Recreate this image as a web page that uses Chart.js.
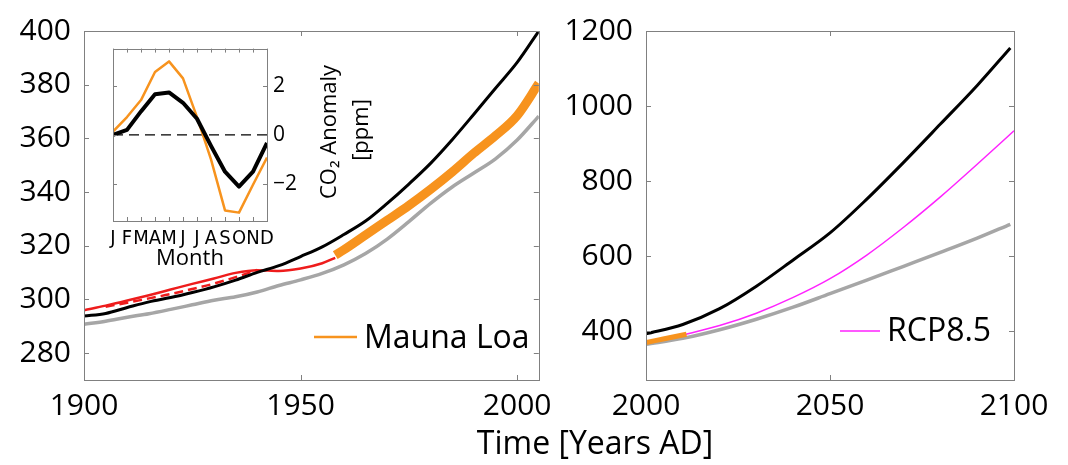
<!DOCTYPE html>
<html>
<head>
<meta charset="utf-8">
<title>CO2 concentration</title>
<script src="https://cdn.jsdelivr.net/npm/chart.js@4.4.1/dist/chart.umd.min.js"></script>
<style>
html,body{margin:0;padding:0;background:#fff;}
#wrap{position:relative;width:1068px;height:465px;overflow:hidden;background:#fff;}
canvas{position:absolute;}
#xtitle{position:absolute;left:395px;width:400px;top:426px;text-align:center;font:32px/32px "Open Sans",sans-serif;color:#000;white-space:nowrap;}
</style>
</head>
<body>
<div id="wrap">
<canvas id="cL" width="560" height="465" style="left:0;top:0;width:560px;height:465px"></canvas>
<canvas id="cR" width="508" height="465" style="left:560px;top:0;width:508px;height:465px"></canvas>
<canvas id="cI" width="300" height="250" style="left:90px;top:30px;width:300px;height:250px"></canvas>
<div id="xtitle">Time [Years AD]</div>
</div>
<script>
// ---------- data: historical panel ----------
const histYears   = [1900,1905,1910,1915,1920,1925,1930,1935,1940,1945,1950,1955,1960,1965,1970,1975,1980,1985,1990,1995,2000,2005];
const blackHist   = [293.8,294.8,297.0,299.1,300.7,302.6,304.7,307.2,310.1,312.6,316.0,319.6,324.2,329.2,335.8,343.0,350.7,359.5,369.0,378.7,388.3,400.0];
const greyHist    = [290.8,291.9,293.4,294.7,296.3,298.0,299.7,301.0,302.8,305.2,307.3,309.7,312.9,317.1,322.5,329.0,335.8,341.9,347.1,352.4,359.4,368.3];
const redYears    = [1900,1905,1910,1915,1920,1925,1930,1935,1940,1945,1950,1955,1958];
const redSolid    = [296.0,297.7,299.6,301.6,303.7,305.8,307.8,309.9,310.9,310.6,311.5,313.5,315.5];
const redDashYears= [1905,1910,1915,1920,1925,1930,1935,1940];
const redDash     = [297.3,298.8,300.4,302.0,303.9,305.9,308.3,311.0];
const mloYears    = [1958,1960,1965,1970,1975,1980,1985,1990,1995,2000,2005];
const mloHist     = [316.5,318.5,324.0,329.5,335.0,341.0,347.5,354.5,361.0,368.5,380.5];
const histXTicks  = [1900,1950,2000];
const histYTicks  = [280,300,320,340,360,380,400];

// ---------- data: projection panel ----------
const projYears   = [2000,2010,2020,2030,2040,2050,2060,2070,2080,2090,2099];
const blackProj   = [393,418,460,520,590,662,752,850,952,1055,1155];
const greyProj    = [365,381,404,432,464,500,536,573,610,648,685];
const rcpYears    = [2010,2020,2030,2040,2050,2060,2070,2080,2090,2100];
const rcp85       = [390,415,448,490,540,603,677,758,845,934];
const mloProjYears= [2000,2005,2011];
const mloProj     = [370,380,392];
const projXTicks  = [2000,2050,2100];
const projYTicks  = [400,600,800,1000,1200];

// ---------- data: inset (seasonal cycle) ----------
const monthLabels = ['J','F','M','A','M','J','J','A','S','O','N','D'];
const monthIdx    = [1,2,3,4,5,6,7,8,9,10,11,12];
const anomModel   = [0.0,0.2,0.95,1.65,1.72,1.3,0.65,-0.45,-1.5,-2.1,-1.5,-0.33];
const anomMLO     = [0.13,0.72,1.41,2.55,2.98,2.29,0.72,-1.0,-3.07,-3.16,-2.03,-0.92];
const zeroX       = [1,12];
const zeroY       = [0,0];
const insetYTicks = [-2,0,2];

// ---------- helpers ----------
const FONT = '"Open Sans", "Noto Sans", sans-serif';
const pts = (xs, ys) => xs.map((x,i)=>({x:x, y:ys[i]}));
const ORANGE = '#f7931e', GREY = '#a6a6a6', RED = '#ee1c1c', MAGENTA = '#ff22ff';

const framePlugin = {
  id:'frame',
  afterDatasetsDraw(chart, args, opts){
    const {ctx, chartArea:a, scales} = chart;
    const L = opts.tick || 5;
    ctx.save();
    ctx.strokeStyle = opts.color || '#808080';
    ctx.lineWidth = 1;
    ctx.beginPath();
    scales.x.ticks.forEach(t=>{
      const p = Math.round(scales.x.getPixelForValue(t.value))+0.5;
      ctx.moveTo(p,a.bottom); ctx.lineTo(p,a.bottom-L);
      ctx.moveTo(p,a.top); ctx.lineTo(p,a.top+L);
    });
    scales.y.ticks.forEach(t=>{
      const p = Math.round(scales.y.getPixelForValue(t.value))+0.5;
      ctx.moveTo(a.left,p); ctx.lineTo(a.left+L,p);
      ctx.moveTo(a.right,p); ctx.lineTo(a.right-L,p);
    });
    ctx.stroke();
    ctx.strokeRect(Math.round(a.left)+0.5, Math.round(a.top)+0.5, Math.round(a.right-a.left), Math.round(a.bottom-a.top));
    ctx.restore();
  }
};

const legendPlugin = {
  id:'inlineLegend',
  afterDraw(chart, args, opts){
    if(!opts || !opts.items) return;
    const ctx = chart.ctx;
    opts.items.forEach(it=>{
      const ds = chart.data.datasets[it.dataset];
      ctx.save();
      ctx.strokeStyle = it.color || ds.borderColor;
      ctx.lineWidth = it.lineWidth;
      ctx.beginPath(); ctx.moveTo(it.x0,it.y); ctx.lineTo(it.x1,it.y); ctx.stroke();
      ctx.fillStyle = '#000';
      ctx.font = '32px ' + FONT;
      ctx.textBaseline = 'alphabetic';
      ctx.textAlign = 'left';
      ctx.fillText(ds.label, it.tx, it.ty);
      ctx.restore();
    });
  }
};

const yTitlePlugin = {
  id:'rotTitle',
  afterDraw(chart, args, opts){
    if(!opts || !opts.lines) return;
    const ctx = chart.ctx;
    opts.lines.forEach(l=>{
      ctx.save();
      ctx.translate(l.x, l.y);
      ctx.rotate(-Math.PI/2);
      ctx.fillStyle = '#000';
      ctx.font = l.size + 'px ' + FONT;
      ctx.textAlign = 'center';
      ctx.textBaseline = 'middle';
      ctx.fillText(l.text, 0, 0);
      ctx.restore();
    });
  }
};

function line(label, data, color, width, extra){
  return Object.assign({label:label, data:data, borderColor:color, backgroundColor:color,
    borderWidth:width, pointRadius:0, fill:false, cubicInterpolationMode:'monotone',
    borderCapStyle:'butt', borderJoinStyle:'round'}, extra||{});
}

function mainOptions(c){
  return {
    responsive:false, animation:false, devicePixelRatio:1,
    layout:{padding:{left:0, top:27, right:c.padRight, bottom:0}},
    plugins:{legend:{display:false}, tooltip:{enabled:false}, inlineLegend:{items:c.legend}, frame:{tick:5}},
    scales:{
      x:{type:'linear', min:c.xmin, max:c.xmax,
        grid:{display:false, drawTicks:false}, border:{display:false},
        afterFit:s=>{s.height=85;},
        afterBuildTicks:s=>{s.ticks=c.xticks.map(v=>({value:v}));},
        ticks:{font:{family:FONT,size:30}, color:'#000', padding:8, maxRotation:0, autoSkip:false, callback:v=>String(v)}},
      y:{type:'linear', min:c.ymin, max:c.ymax,
        grid:{display:false, drawTicks:false}, border:{display:false},
        afterFit:s=>{s.width=c.yw;},
        afterBuildTicks:s=>{s.ticks=c.yticks.map(v=>({value:v}));},
        ticks:{font:{family:FONT,size:30}, color:'#000', padding:13, autoSkip:false, callback:v=>String(v)}}
    }
  };
}

// ---------- left: historical ----------
new Chart(document.getElementById('cL'), {
  type:'line',
  data:{datasets:[
    line('Mauna Loa', pts(mloYears, mloHist), ORANGE, 9),
    line('Model', pts(histYears, blackHist), '#000', 3),
    line('Ice core', pts(redYears, redSolid), RED, 2.5),
    line('Ice core (dashed)', pts(redDashYears, redDash), RED, 2.5, {borderDash:[9,5]}),
    line('Model (low)', pts(histYears, greyHist), GREY, 3.5)
  ]},
  options:mainOptions({xmin:1900, xmax:2005, ymin:270, ymax:400, xticks:histXTicks, yticks:histYTicks,
    yw:84, padRight:11,
    legend:[{dataset:0, x0:314, x1:357, y:337, lineWidth:2.5, tx:364, ty:348}]}),
  plugins:[framePlugin, legendPlugin]
});

// ---------- right: projection ----------
new Chart(document.getElementById('cR'), {
  type:'line',
  data:{datasets:[
    line('Mauna Loa', pts(mloProjYears, mloProj), ORANGE, 5),
    line('RCP8.5', pts(rcpYears, rcp85), MAGENTA, 1.5),
    line('Model', pts(projYears, blackProj), '#000', 3),
    line('Model (low)', pts(projYears, greyProj), GREY, 3.5)
  ]},
  options:mainOptions({xmin:2000, xmax:2100, ymin:270, ymax:1200, xticks:projXTicks, yticks:projYTicks,
    yw:86, padRight:54,
    legend:[{dataset:1, x0:280, x1:320, y:331, lineWidth:1.5, tx:327, ty:341}]}),
  plugins:[framePlugin, legendPlugin]
});

// ---------- inset: seasonal cycle ----------
new Chart(document.getElementById('cI'), {
  type:'line',
  data:{datasets:[
    line('Model', pts(monthIdx, anomModel), '#000', 4, {cubicInterpolationMode:'default', tension:0}),
    line('Mauna Loa', pts(monthIdx, anomMLO), ORANGE, 2.5, {cubicInterpolationMode:'default', tension:0}),
    line('zero', pts(zeroX, zeroY), '#000', 1.3, {borderDash:[10,6], cubicInterpolationMode:'default', tension:0})
  ]},
  options:{
    responsive:false, animation:false, devicePixelRatio:1,
    layout:{padding:{left:23, top:14, right:0, bottom:0}},
    plugins:{legend:{display:false}, tooltip:{enabled:false}, frame:{tick:4},
      rotTitle:{lines:[{text:'CO\u2082 Anomaly', x:240, y:102, size:22},{text:'[ppm]', x:272, y:100, size:22}]}},
    scales:{
      x:{type:'linear', min:1, max:12,
        grid:{display:false, drawTicks:false}, border:{display:false},
        afterFit:s=>{s.height=59;},
        afterBuildTicks:s=>{s.ticks=monthIdx.map(v=>({value:v}));},
        ticks:{font:{family:'"Liberation Sans Narrow", "DejaVu Sans Condensed", sans-serif', size:20}, color:'#000', padding:6, maxRotation:0, autoSkip:false,
          callback:v=>monthLabels[v-1]},
        title:{display:true, text:'Month', font:{family:FONT, size:22}, color:'#000', padding:{top:0,bottom:8}}},
      y:{type:'linear', position:'right', min:-3.5, max:3.5,
        grid:{display:false, drawTicks:false}, border:{display:false},
        afterFit:s=>{s.width=123;},
        afterBuildTicks:s=>{s.ticks=insetYTicks.map(v=>({value:v}));},
        ticks:{font:{family:FONT, size:21}, color:'#000', padding:6, autoSkip:false,
          callback:v=>(v<0?'\u2212'+Math.abs(v):String(v))}}
    }
  },
  plugins:[framePlugin, yTitlePlugin]
});
</script>
</body>
</html>
